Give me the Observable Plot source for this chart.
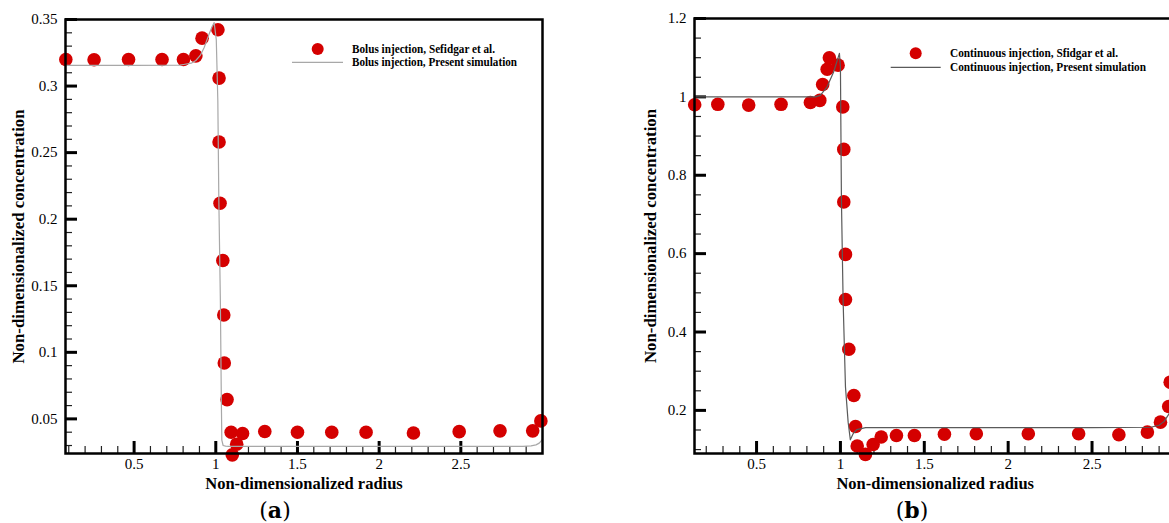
<!DOCTYPE html>
<html><head><meta charset="utf-8">
<script src="https://cdn.jsdelivr.net/npm/d3@7"></script>
<script src="https://cdn.jsdelivr.net/npm/@observablehq/plot@0.6"></script>
<style>
html,body{margin:0;padding:0;background:#fff;overflow:hidden;}
#page{position:relative;width:1169px;height:523px;overflow:hidden;font-family:"Liberation Serif","Times New Roman",serif;background:#fff;}
.panel{position:absolute;top:0;}
.panel text{font-family:"Liberation Serif","Times New Roman",serif !important;}
.cap{position:absolute;top:499px;font-family:"DejaVu Serif",serif;font-size:22px;line-height:22px;transform:translateX(-50%);white-space:nowrap;}
#legend{position:absolute;top:0;left:0;pointer-events:none;}
</style></head><body><div id="page"></div>
<script>
// ---- Panel (a): bolus injection ----
const bolusExpX = [0.082, 0.255, 0.466, 0.671, 0.802, 0.878, 0.916, 1.013, 1.02, 1.02, 1.026, 1.043, 1.049, 1.052, 1.069, 1.094, 1.101, 1.128, 1.164, 1.30, 1.50, 1.71, 1.92, 2.21, 2.49, 2.74, 2.94, 2.99];
const bolusExpY = [0.320, 0.3198, 0.320, 0.320, 0.320, 0.3227, 0.336, 0.3423, 0.306, 0.258, 0.212, 0.169, 0.128, 0.092, 0.0645, 0.040, 0.023, 0.031, 0.039, 0.0405, 0.040, 0.040, 0.040, 0.0394, 0.0404, 0.041, 0.041, 0.0485];
const bolusSimX = [0.08, 0.5, 0.78, 0.8025, 0.85, 0.878, 0.905, 0.929, 0.959, 0.975, 0.99, 1.003, 1.0125, 1.0187, 1.028, 1.034, 1.037, 1.045, 1.06, 1.08, 2.0, 2.88, 2.93, 2.96, 2.98, 3.0];
const bolusSimY = [0.3155, 0.3155, 0.3157, 0.3162, 0.3172, 0.3192, 0.323, 0.329, 0.339, 0.344, 0.3477, 0.335, 0.289, 0.214, 0.139, 0.064, 0.034, 0.030, 0.0295, 0.0294, 0.0294, 0.0294, 0.0297, 0.0305, 0.0318, 0.0345];
const bolusXTicks = [0.5, 1, 1.5, 2, 2.5];
const bolusYTicks = [0.05, 0.1, 0.15, 0.2, 0.25, 0.3, 0.35];

// ---- Panel (b): continuous injection ----
const contExpX = [0.131, 0.269, 0.453, 0.646, 0.821, 0.877, 0.894, 0.921, 0.934, 0.986, 1.014, 1.02, 1.02, 1.03, 1.03, 1.05, 1.08, 1.09, 1.10, 1.149, 1.195, 1.243, 1.334, 1.441, 1.62, 1.81, 2.12, 2.42, 2.66, 2.83, 2.908, 2.957, 2.966];
const contExpY = [0.980, 0.981, 0.979, 0.981, 0.9856, 0.991, 1.0315, 1.0706, 1.100, 1.081, 0.9744, 0.866, 0.732, 0.598, 0.483, 0.356, 0.238, 0.159, 0.109, 0.0877, 0.113, 0.132, 0.136, 0.136, 0.139, 0.1405, 0.1405, 0.1405, 0.138, 0.1446, 0.17, 0.21, 0.272];
const contSimX = [0.13, 0.5, 0.85, 0.88, 0.92, 0.96, 0.994, 1.0, 1.006, 1.016, 1.03, 1.046, 1.059, 1.075, 1.097, 1.15, 1.5, 2.5, 2.85, 2.9, 2.93, 2.96, 2.98, 3.0];
const contSimY = [1.0, 1.0, 1.0, 1.004, 1.025, 1.064, 1.111, 1.076, 0.736, 0.48, 0.26, 0.17, 0.125, 0.14, 0.151, 0.156, 0.156, 0.156, 0.157, 0.162, 0.172, 0.192, 0.22, 0.26];
const contXTicks = [0.5, 1, 1.5, 2, 2.5];
const contYTicks = [0.2, 0.4, 0.6, 0.8, 1, 1.2];

const xTitle = "Non-dimensionalized radius";
const yTitle = "Non-dimensionalized concentration";
const legendA = ["Bolus injection, Sefidgar et al.", "Bolus injection, Present simulation"];
const legendB = ["Continuous injection, Sfidgar et al.", "Continuous injection, Present simulation"];

const RED = "#d40000";
const SERIF = "'Liberation Serif', 'Times New Roman', serif";

function minors(lo, hi, step, majors) {
  const n = Math.round((hi - lo) / step);
  const out = [];
  for (let i = 0; i <= n; i++) {
    const v = +(lo + i * step).toFixed(4);
    if (!majors.some(m => Math.abs(m - v) < 1e-6)) out.push(v);
  }
  return out;
}

function panel(o) {
  const H = 500, mB = 47;
  const plotH = H - o.mT - mB;
  const plotW = o.width - o.mL - o.mR;
  const dots = o.px.map((x, i) => ({x, y: o.py[i]}));
  const line = o.lx.map((x, i) => ({x, y: o.ly[i]}));
  const fmt = d => String(d);
  const tX = (v, len, w, c) => Plot.ruleX(v, {x: d => d, insetTop: plotH - len, stroke: c, strokeWidth: w});
  const tY = (v, len, w, c) => Plot.ruleY(v, {y: d => d, insetRight: plotW - len, stroke: c, strokeWidth: w});
  return Plot.plot({
    width: o.width, height: H,
    marginLeft: o.mL, marginRight: o.mR, marginTop: o.mT, marginBottom: mB,
    style: {fontFamily: SERIF, fontSize: "15px", background: "transparent", color: "black", overflow: "visible"},
    x: {domain: o.xDomain, label: null},
    y: {domain: o.yDomain, label: null},
    marks: [
      tX(o.xMinor, 7, 1.2, "#222"),
      tX(o.xTicks, 12, 3, "black"),
      tY(o.yMinor, 7, 1.2, "#222"),
      tY(o.yTicks, 12, 3, "black"),
      Plot.dot(dots, {x: "x", y: "y", r: 6.8, fill: RED, stroke: "none"}),
      Plot.line(line, {x: "x", y: "y", stroke: o.lineColor, strokeWidth: 1.2, curve: "linear"}),
      Plot.axisX(o.xTicks, {anchor: "bottom", tickSize: 0, tickPadding: 5, fontSize: 15, fontFamily: SERIF, tickFormat: fmt, label: null}),
      Plot.axisY(o.yTicks, {anchor: "left", tickSize: 0, tickPadding: 8, fontSize: 15, fontFamily: SERIF, tickFormat: fmt, label: null}),
      Plot.frame({stroke: "black", strokeWidth: 2.5}),
      Plot.text([xTitle], {frameAnchor: "bottom", dy: 30, textAnchor: "middle", lineAnchor: "middle", fontWeight: "bold", fontSize: 16.5, fontFamily: SERIF}),
      Plot.text([yTitle], {frameAnchor: "left", dx: o.yTitleDx, rotate: -90, textAnchor: "middle", lineAnchor: "middle", fontWeight: "bold", fontSize: 16.8, fontFamily: SERIF})
    ]
  });
}

const page = document.getElementById("page");

const a = panel({
  width: 560, mL: 65, mR: 18, mT: 19,
  xDomain: [0.08, 3.0], yDomain: [0.024, 0.35],
  px: bolusExpX, py: bolusExpY, lx: bolusSimX, ly: bolusSimY,
  xTicks: bolusXTicks, yTicks: bolusYTicks,
  xMinor: minors(0.1, 2.9, 0.1, bolusXTicks),
  yMinor: minors(0.03, 0.34, 0.01, bolusYTicks),
  lineColor: "#a8a8a8", yTitleDx: -47
});
a.classList.add("panel"); a.style.left = "0px";
page.appendChild(a);

const b = panel({
  width: 600, mL: 114, mR: 4.6, mT: 18,
  xDomain: [0.13, 3.0], yDomain: [0.09, 1.2],
  px: contExpX, py: contExpY, lx: contSimX, ly: contSimY,
  xTicks: contXTicks, yTicks: contYTicks,
  xMinor: minors(0.2, 2.9, 0.1, contXTicks),
  yMinor: minors(0.1, 1.15, 0.05, contYTicks),
  lineColor: "#5a5a5a", yTitleDx: -44
});
b.classList.add("panel"); b.style.left = "580px";
page.appendChild(b);

// legends
const svg = d3.select(page).append("svg").attr("id", "legend").attr("width", 1169).attr("height", 523);
function legend(cx, cy, lx1, lx2, ly, color, tx, t1y, t2y, labels, lens) {
  svg.append("circle").attr("cx", cx).attr("cy", cy).attr("r", 6).attr("fill", RED);
  svg.append("line").attr("x1", lx1).attr("x2", lx2).attr("y1", ly).attr("y2", ly).attr("stroke", color).attr("stroke-width", 1.2);
  [t1y, t2y].forEach((y, i) => {
    svg.append("text").attr("x", tx).attr("y", y).text(labels[i])
      .attr("font-family", SERIF).attr("font-weight", "bold").attr("font-size", 11.5)
      .attr("textLength", lens[i]).attr("lengthAdjust", "spacingAndGlyphs");
  });
}
legend(317.7, 49, 292, 343, 62.3, "#a8a8a8", 352, 52.5, 66, legendA, [143, 165]);
legend(915.7, 53.3, 890.7, 940.7, 67.3, "#5a5a5a", 950, 57, 70.5, legendB, [168, 196]);

// captions
const ca = document.createElement("div"); ca.className = "cap"; ca.style.left = "275px"; ca.innerHTML = "(<b>a</b>)"; page.appendChild(ca);
const cb = document.createElement("div"); cb.className = "cap"; cb.style.left = "912px"; cb.innerHTML = "(<b>b</b>)"; page.appendChild(cb);
</script></body></html>
